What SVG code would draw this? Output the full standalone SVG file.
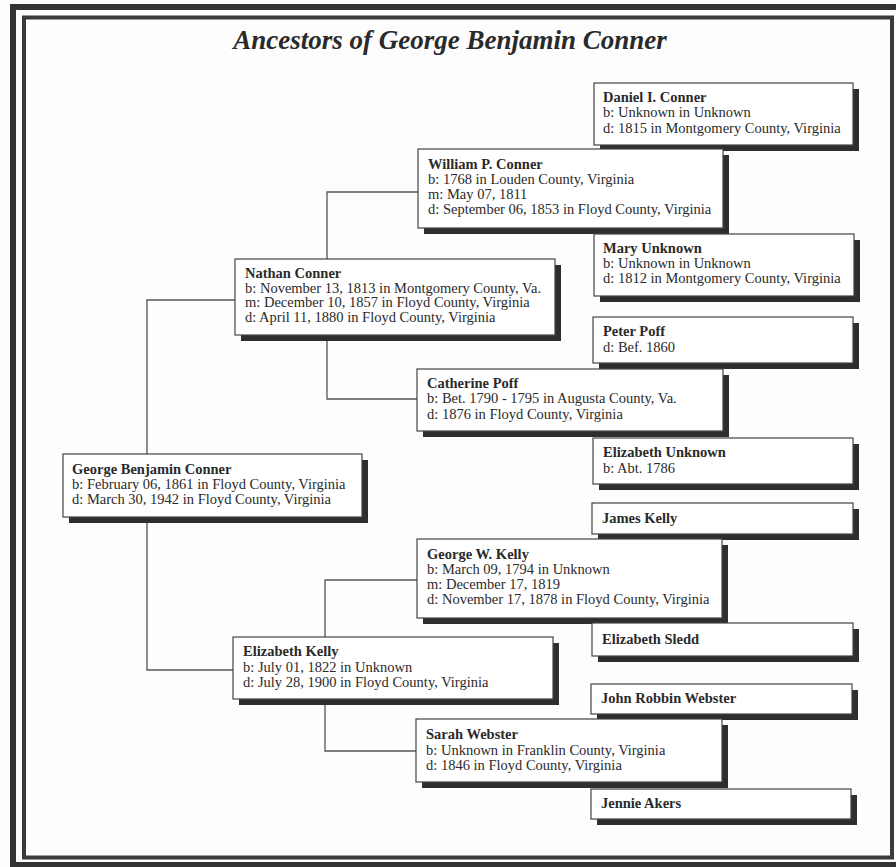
<svg xmlns="http://www.w3.org/2000/svg" width="896" height="867" viewBox="0 0 896 867">
<defs>
<style>
.bg{fill:#fdfdfd}
.frameO{fill:none;stroke:#333;stroke-width:6}
.frameI{fill:none;stroke:#3a3a3a;stroke-width:4}
.title{font-family:"Liberation Serif","Times New Roman",serif;font-weight:bold;font-style:italic;font-size:27px;fill:#2a2a2a}
.sh{fill:#2e2e2e}
.box{fill:#fff;stroke:#444;stroke-width:1.2}
.t{font-family:"Liberation Serif","Times New Roman",serif;font-size:14.5px;fill:#2a2a2a}
.n{font-weight:bold}
.c{fill:none;stroke:#555;stroke-width:1.3}
</style>
</defs>
<rect class="bg" x="0" y="0" width="896" height="867"/>
<rect class="frameO" x="13" y="7" width="890" height="858"/>
<rect class="frameI" x="24" y="17.5" width="868" height="840"/>
<text class="title" x="450" y="49" text-anchor="middle">Ancestors of George Benjamin Conner</text>

<g id="connectors">
<path class="c" d="M147,454 V300 H235"/>
<path class="c" d="M147,517 V670 H233"/>
<path class="c" d="M327,259 V192 H418"/>
<path class="c" d="M327,335 V399 H417"/>
<path class="c" d="M325,637 V580 H417"/>
<path class="c" d="M325,699 V751 H416"/>
</g>

<g id="daniel">
<rect class="sh" x="600" y="89" width="259" height="62"/>
<rect class="box" x="594" y="83" width="259" height="62"/>
<text class="t" x="603" y="102"><tspan class="n">Daniel I. Conner</tspan><tspan x="603" dy="15.3">b: Unknown in Unknown</tspan><tspan x="603" dy="15.3">d: 1815 in Montgomery County, Virginia</tspan></text>
</g>
<g id="william">
<rect class="sh" x="424" y="155" width="305" height="79"/>
<rect class="box" x="418" y="149" width="305" height="79"/>
<text class="t" x="428" y="169"><tspan class="n">William P. Conner</tspan><tspan x="428" dy="15.1">b: 1768 in Louden County, Virginia</tspan><tspan x="428" dy="15.1">m: May 07, 1811</tspan><tspan x="428" dy="15.1">d: September 06, 1853 in Floyd County, Virginia</tspan></text>
</g>
<g id="mary">
<rect class="sh" x="600" y="240" width="260" height="62"/>
<rect class="box" x="594" y="234" width="260" height="62"/>
<text class="t" x="603" y="253"><tspan class="n">Mary Unknown</tspan><tspan x="603" dy="14.8">b: Unknown in Unknown</tspan><tspan x="603" dy="14.8">d: 1812 in Montgomery County, Virginia</tspan></text>
</g>
<g id="nathan">
<rect class="sh" x="241" y="265" width="320" height="76"/>
<rect class="box" x="235" y="259" width="320" height="76"/>
<text class="t" x="245" y="278"><tspan class="n">Nathan Conner</tspan><tspan x="245" dy="14.6">b: November 13, 1813 in Montgomery County, Va.</tspan><tspan x="245" dy="14.6">m: December 10, 1857 in Floyd County, Virginia</tspan><tspan x="245" dy="14.6">d: April 11, 1880 in Floyd County, Virginia</tspan></text>
</g>
<g id="peter">
<rect class="sh" x="599" y="323" width="260" height="46"/>
<rect class="box" x="593" y="317" width="260" height="46"/>
<text class="t" x="603" y="336"><tspan class="n">Peter Poff</tspan><tspan x="603" dy="15.5">d: Bef. 1860</tspan></text>
</g>
<g id="catherine">
<rect class="sh" x="423" y="375" width="306" height="62"/>
<rect class="box" x="417" y="369" width="306" height="62"/>
<text class="t" x="427" y="388"><tspan class="n">Catherine Poff</tspan><tspan x="427" dy="15.3">b: Bet. 1790 - 1795 in Augusta County, Va.</tspan><tspan x="427" dy="15.3">d: 1876 in Floyd County, Virginia</tspan></text>
</g>
<g id="elizabeth-unknown">
<rect class="sh" x="599" y="444" width="260" height="46"/>
<rect class="box" x="593" y="438" width="260" height="46"/>
<text class="t" x="603" y="457"><tspan class="n">Elizabeth Unknown</tspan><tspan x="603" dy="15.5">b: Abt. 1786</tspan></text>
</g>
<g id="george-benjamin">
<rect class="sh" x="69" y="460" width="299" height="63"/>
<rect class="box" x="63" y="454" width="299" height="63"/>
<text class="t" x="72" y="474"><tspan class="n">George Benjamin Conner</tspan><tspan x="72" dy="15">b: February 06, 1861 in Floyd County, Virginia</tspan><tspan x="72" dy="15">d: March 30, 1942 in Floyd County, Virginia</tspan></text>
</g>
<g id="james">
<rect class="sh" x="598" y="509" width="261" height="31"/>
<rect class="box" x="592" y="503" width="261" height="31"/>
<text class="t n" x="602" y="523">James Kelly</text>
</g>
<g id="george-w">
<rect class="sh" x="423" y="545" width="305" height="79"/>
<rect class="box" x="417" y="539" width="305" height="79"/>
<text class="t" x="427" y="559"><tspan class="n">George W. Kelly</tspan><tspan x="427" dy="15.1">b: March 09, 1794 in Unknown</tspan><tspan x="427" dy="15.1">m: December 17, 1819</tspan><tspan x="427" dy="15.1">d: November 17, 1878 in Floyd County, Virginia</tspan></text>
</g>
<g id="elizabeth-sledd">
<rect class="sh" x="598" y="629" width="261" height="33"/>
<rect class="box" x="592" y="623" width="261" height="33"/>
<text class="t n" x="602" y="644">Elizabeth Sledd</text>
</g>
<g id="elizabeth-kelly">
<rect class="sh" x="239" y="643" width="320" height="62"/>
<rect class="box" x="233" y="637" width="320" height="62"/>
<text class="t" x="243" y="656"><tspan class="n">Elizabeth Kelly</tspan><tspan x="243" dy="15.5">b: July 01, 1822 in Unknown</tspan><tspan x="243" dy="15.5">d: July 28, 1900 in Floyd County, Virginia</tspan></text>
</g>
<g id="john">
<rect class="sh" x="597" y="690" width="261" height="30"/>
<rect class="box" x="591" y="684" width="261" height="30"/>
<text class="t n" x="601" y="703">John Robbin Webster</text>
</g>
<g id="sarah">
<rect class="sh" x="422" y="725" width="306" height="63"/>
<rect class="box" x="416" y="719" width="306" height="63"/>
<text class="t" x="426" y="739"><tspan class="n">Sarah Webster</tspan><tspan x="426" dy="15.5">b: Unknown in Franklin County, Virginia</tspan><tspan x="426" dy="15.5">d: 1846 in Floyd County, Virginia</tspan></text>
</g>
<g id="jennie">
<rect class="sh" x="597" y="795" width="260" height="30"/>
<rect class="box" x="591" y="789" width="260" height="30"/>
<text class="t n" x="601" y="808">Jennie Akers</text>
</g>
</svg>
